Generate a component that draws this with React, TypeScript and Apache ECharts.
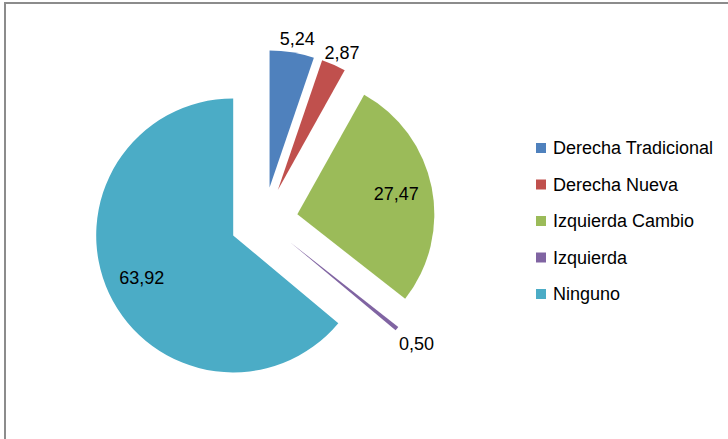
import React, { useEffect, useRef } from "react";
import * as echarts from "echarts";

const categories = ["Derecha Tradicional", "Derecha Nueva", "Izquierda Cambio", "Izquierda", "Ninguno"];
const values = [5.24, 2.87, 27.47, 0.5, 63.92];
const colors = ["#4F81BD", "#C0504D", "#9BBB59", "#8064A2", "#4BACC6"];
const innerLabelNames = ["Izquierda Cambio", "Ninguno"];
const outerLabelNames = ["Derecha Tradicional", "Derecha Nueva"];
const farLabelNames = ["Izquierda"];

const FONT = "'Liberation Sans', Arial, sans-serif";
const fmt = (v: number) => v.toFixed(2).replace(".", ",");

export default function App() {
  const ref = useRef<HTMLDivElement>(null);
  useEffect(() => {
    if (!ref.current) return;
    const chart = echarts.init(ref.current, undefined, { renderer: "svg" });
    const center = [264, 221];
    const offset = 34;
    const baseData = categories.map((name, i) => ({
      name,
      value: values[i],
      selected: true,
      itemStyle: { color: colors[i] },
    }));
    const labelSeries = (radius: any, names: string[], pad: number[]) => ({
      type: "pie",
      center,
      radius,
      startAngle: 90,
      clockwise: true,
      selectedMode: "multiple",
      selectedOffset: offset,
      silent: true,
      avoidLabelOverlap: false,
      minShowLabelAngle: 0,
      legendHoverLink: false,
      itemStyle: { color: "transparent", borderWidth: 0 },
      labelLine: { show: false },
      emphasis: { disabled: true },
      data: categories.map((name, i) => ({
        name,
        value: values[i],
        selected: true,
        itemStyle: { color: "rgba(0,0,0,0)", borderWidth: 0 },
        label: {
          show: names.includes(name),
          position: "inside",
          formatter: () => fmt(values[i]),
          color: "#000",
          fontSize: 18,
          fontFamily: FONT,
          rotate: 0,
          padding: pad,
        },
      })),
    });
    chart.setOption({
      animation: false,
      backgroundColor: "#ffffff",
      graphic: [
        {
          type: "rect",
          shape: { x: 5, y: 3, width: 1000, height: 1000 },
          style: { fill: "none", stroke: "#8c8c8c", lineWidth: 2 },
          silent: true,
        },
      ],
      legend: {
        orient: "vertical",
        left: 536,
        top: 139,
        padding: 0,
        itemWidth: 10,
        itemHeight: 10,
        itemGap: 18.5,
        icon: "rect",
        data: categories,
        textStyle: { color: "#000", fontSize: 18, lineHeight: 18, fontFamily: FONT, padding: [0, 0, 0, 2] },
        selectedMode: false,
      },
      series: [
        {
          type: "pie",
          center,
          radius: [0, 137],
          startAngle: 90,
          clockwise: true,
          selectedMode: "multiple",
          selectedOffset: offset,
          silent: true,
          itemStyle: { borderWidth: 0 },
          label: { show: false },
          labelLine: { show: false },
          emphasis: { disabled: true },
          data: baseData,
        },
        labelSeries([0, 196], innerLabelNames, [8, 0, 0, 0]),
        labelSeries([0, 294], outerLabelNames, [2, 0, 0, 6]),
        labelSeries([0, 316], farLabelNames, [2, 0, 0, 2]),
      ],
    });
    return () => chart.dispose();
  }, []);
  return <div ref={ref} style={{ position: "absolute", left: 0, top: 0, width: 728, height: 439 }} />;
}
